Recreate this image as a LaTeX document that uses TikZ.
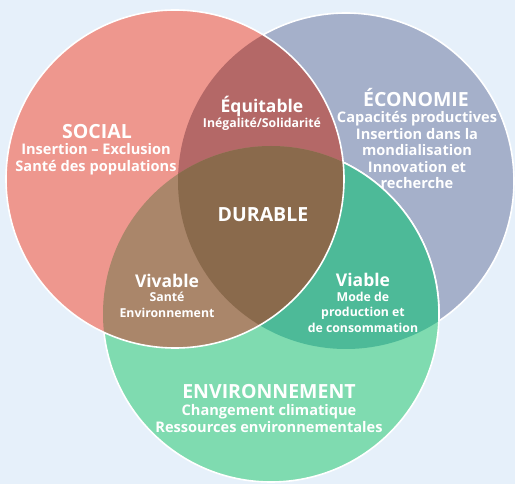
\documentclass[tikz,border=0pt]{standalone}
\usepackage{fontspec}
\setmainfont{Open Sans}
\definecolor{bgc}{HTML}{E6F0FA}
\definecolor{socc}{HTML}{EE978E}
\definecolor{ecoc}{HTML}{A5B0CA}
\definecolor{envc}{HTML}{7FDBB0}
\definecolor{equc}{HTML}{B46867}
\definecolor{viac}{HTML}{4DBA98}
\definecolor{vivc}{HTML}{AA866A}
\definecolor{durc}{HTML}{8A6A4C}
\begin{document}
\begin{tikzpicture}[x=1pt,y=-1pt,
  rim/.style={draw=white,line width=1.6pt},
  head/.style={text=white,inner sep=0pt,align=center,font=\bfseries\fontsize{19.5}{22}\selectfont},
  body/.style={text=white,inner sep=0pt,align=center,font=\bfseries\fontsize{14.6}{16.5}\selectfont},
  mhead/.style={text=white,inner sep=0pt,align=center,font=\bfseries\fontsize{17.5}{20}\selectfont},
  mbody/.style={text=white,inner sep=0pt,align=center,font=\bfseries\fontsize{12.3}{15.5}\selectfont}]
\fill[bgc] (0,0) rectangle (515,484);
\useasboundingbox (0,0) rectangle (515,484);
\coordinate (cs) at (175,179);
\coordinate (ce) at (346,181);
\coordinate (cn) at (271,314);
% economy
\fill[ecoc] (ce) circle[radius=168pt];
\draw[rim] (ce) circle[radius=168pt];
% environment
\fill[envc] (cn) circle[radius=168pt];
\draw[rim] (cn) circle[radius=168pt];
\begin{scope}
  \clip (ce) circle[radius=168pt];
  \fill[viac] (cn) circle[radius=168pt];
  \draw[rim] (cn) circle[radius=168pt];
\end{scope}
% social
\fill[socc] (cs) circle[radius=169pt];
\begin{scope}
  \clip (cs) circle[radius=169pt];
  \fill[equc] (ce) circle[radius=168pt];
  \fill[vivc] (cn) circle[radius=168pt];
  \clip (ce) circle[radius=168pt];
  \fill[durc] (cn) circle[radius=168pt];
\end{scope}
\draw[rim] (cs) circle[radius=169pt];
% texts
\node[head] (soc) at (97,132) {SOCIAL};
\node[body] (socb) at (96,159) {Insertion – Exclusion\\Santé des populations};
\node[head] (eco) at (416,98) {ÉCONOMIE};
\node[body] (ecob) at (417,150) {Capacités productives\\Insertion dans la\\mondialisation\\Innovation et\\recherche};
\node[mhead] (equ) at (262,106) {Équitable};
\node[mbody] (equb) at (262,124) {Inégalité/Solidarité};
\node[head] (dur) at (263,215) {DURABLE};
\node[mhead] (viv) at (167,281) {Vivable};
\node[mbody] (vivb) at (167,305) {Santé\\Environnement};
\node[mhead] (via) at (363,280) {Viable};
\node[mbody] (viab) at (363,312) {Mode de\\production et\\de consommation};
\node[head] (env) at (269,392) {ENVIRONNEMENT};
\node[body] (envb) at (269,418.5) {Changement climatique\\Ressources environnementales};
\end{tikzpicture}
\end{document}
